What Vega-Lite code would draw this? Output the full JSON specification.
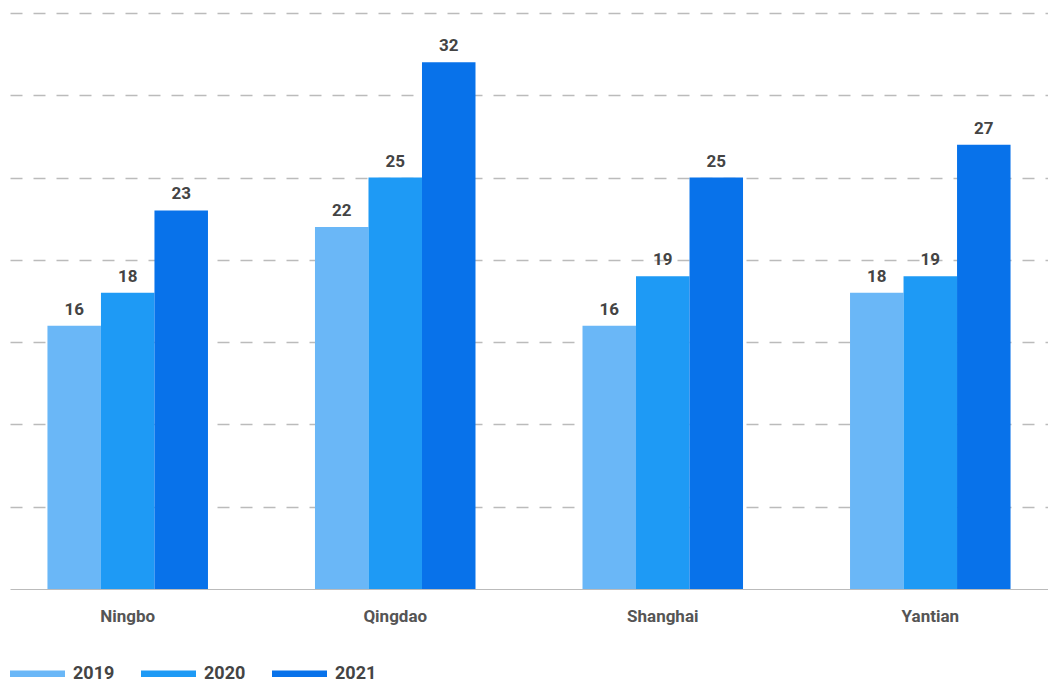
{
  "$schema": "https://vega.github.io/schema/vega-lite/v6.json",
  "width": 1038,
  "height": 576,
  "autosize": {"type": "none"},
  "padding": {"left": 10, "top": 13, "right": 0, "bottom": 94},
  "config": {"view": {"stroke": null}, "font": "Roboto"},
  "data": {
    "values": [
      {"port": "Ningbo", "year": "2019", "value": 16},
      {"port": "Ningbo", "year": "2020", "value": 18},
      {"port": "Ningbo", "year": "2021", "value": 23},
      {"port": "Qingdao", "year": "2019", "value": 22},
      {"port": "Qingdao", "year": "2020", "value": 25},
      {"port": "Qingdao", "year": "2021", "value": 32},
      {"port": "Shanghai", "year": "2019", "value": 16},
      {"port": "Shanghai", "year": "2020", "value": 19},
      {"port": "Shanghai", "year": "2021", "value": 25},
      {"port": "Yantian", "year": "2019", "value": 18},
      {"port": "Yantian", "year": "2020", "value": 19},
      {"port": "Yantian", "year": "2021", "value": 27}
    ]
  },
  "encoding": {
    "x": {
      "field": "port", "type": "nominal", "sort": null,
      "scale": {"paddingInner": 0.4, "paddingOuter": 0.14},
      "axis": {
        "title": null, "labelAngle": 0, "ticks": false,
        "domainColor": "#bbbbbb", "domainWidth": 1.2,
        "labelFontSize": 17, "labelFontWeight": "bold", "labelColor": "#555555",
        "labelPadding": 19
      }
    },
    "xOffset": {"field": "year", "type": "nominal", "sort": ["2019", "2020", "2021"]},
    "y": {
      "field": "value", "type": "quantitative",
      "scale": {"domain": [0, 35], "nice": false},
      "axis": {
        "title": null, "labels": false, "ticks": false, "domain": false,
        "values": [5, 10, 15, 20, 25, 30, 35],
        "gridColor": "#bbbbbb", "gridDash": [12, 11], "gridWidth": 1.5
      }
    }
  },
  "layer": [
    {
      "mark": {"type": "bar"},
      "encoding": {
        "color": {
          "field": "year", "type": "nominal",
          "scale": {"domain": ["2019", "2020", "2021"], "range": ["#6ab7f7", "#1e9af5", "#0872ea"]},
          "legend": {
            "title": null, "orient": "none", "direction": "horizontal",
            "legendX": 0, "legendY": 633, "padding": 0, "offset": 0,
            "symbolType": "M-1,-0.12L1,-0.12L1,0.12L-1,0.12Z",
            "symbolSize": 3025, "symbolStrokeWidth": 0, "symbolOpacity": 1,
            "labelFontSize": 18, "labelFontWeight": "bold", "labelColor": "#444444",
            "labelOffset": 8, "columnPadding": 26
          }
        }
      }
    },
    {
      "mark": {"type": "text", "baseline": "bottom", "dy": -7, "fontSize": 17, "fontWeight": "bold", "color": "#444444"},
      "encoding": {"text": {"field": "value", "type": "quantitative"}}
    }
  ]
}
